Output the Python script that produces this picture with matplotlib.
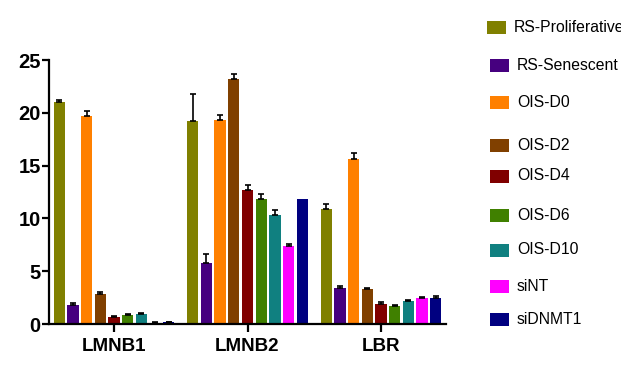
import matplotlib
matplotlib.use("Agg")
import matplotlib.pyplot as plt
from matplotlib.patches import Rectangle
import numpy as np

plt.rcParams['font.family'] = ['Liberation Sans', 'DejaVu Sans']

genes = ["LMNB1", "LMNB2", "LBR"]
conditions = ["RS-Proliferative", "RS-Senescent", "OIS-D0", "OIS-D2", "OIS-D4",
              "OIS-D6", "OIS-D10", "siNT", "siDNMT1"]
colors = ["#808000", "#46007f", "#ff8000", "#804000", "#800000",
          "#408000", "#108080", "#ff00ff", "#000080"]

# values[condition][gene]
means = [
    [21.05, 19.2, 10.9],   # RS-Proliferative
    [1.78, 5.75, 3.4],     # RS-Senescent
    [19.7, 19.3, 15.6],    # OIS-D0
    [2.8, 23.2, 3.3],      # OIS-D2
    [0.65, 12.7, 1.88],    # OIS-D4
    [0.85, 11.8, 1.7],     # OIS-D6
    [0.95, 10.35, 2.2],    # OIS-D10
    [0.1, 7.4, 2.5],       # siNT
    [0.15, 11.8, 2.5],     # siDNMT1
]
errors = [
    [0.2, 2.6, 0.5],
    [0.17, 0.85, 0.22],
    [0.5, 0.5, 0.62],
    [0.2, 0.5, 0.08],
    [0.08, 0.5, 0.2],
    [0.08, 0.5, 0.08],
    [0.08, 0.42, 0.08],
    [0.05, 0.18, 0.1],
    [0.05, 0.0, 0.15],
]

W, H = 621, 372
fig = plt.figure(figsize=(W / 100, H / 100), dpi=100)
ax = fig.add_axes([49 / W, 1 - 324 / H, (446 - 49) / W, (324 - 60) / H])

step = 0.1026
width = 0.085
x = np.arange(len(genes))
n = len(conditions)
for i, (c, col) in enumerate(zip(conditions, colors)):
    xs = x + (i - (n - 1) / 2) * step
    m = np.array(means[i])
    e = np.array(errors[i])
    ax.bar(xs, m, width=width, color=col, edgecolor='none', zorder=2)
    sel = e > 0
    ax.errorbar(xs[sel], m[sel], yerr=[np.zeros(sel.sum()), e[sel]], fmt='none',
                ecolor='black', elinewidth=1.2, capsize=2.5, capthick=1.2, zorder=3)

ax.set_xlim(-0.487, 2.487)
ax.set_ylim(0, 25)
ax.set_yticks([0, 5, 10, 15, 20, 25])
ax.set_xticks(x)
ax.set_xticklabels(genes, fontsize=13.5, fontweight='bold')
for lab in ax.get_yticklabels():
    lab.set_fontsize(14.5)
    lab.set_fontweight('bold')
for s in ['top', 'right']:
    ax.spines[s].set_visible(False)
for s in ['left', 'bottom']:
    ax.spines[s].set_linewidth(1.6)
ax.tick_params(axis='y', length=5, width=1.6, pad=1)
ax.tick_params(axis='x', length=6, width=1.6, pad=4)

# legend with manual positions (as in reference)
leg_y = [27, 65, 102.5, 145.6, 176, 215.3, 250, 286.7, 319]
for i, (c, col) in enumerate(zip(conditions, colors)):
    xp = 487 if i == 0 else 490
    yc = leg_y[i]
    fig.add_artist(Rectangle((xp / W, 1 - (yc + 6.5) / H), 19 / W, 13 / H,
                             transform=fig.transFigure, facecolor=col,
                             edgecolor='none'))
    fig.text((xp + 27) / W, 1 - yc / H, c, fontsize=11.3, va='center', ha='left')

fig.savefig("out.png", dpi=100)
